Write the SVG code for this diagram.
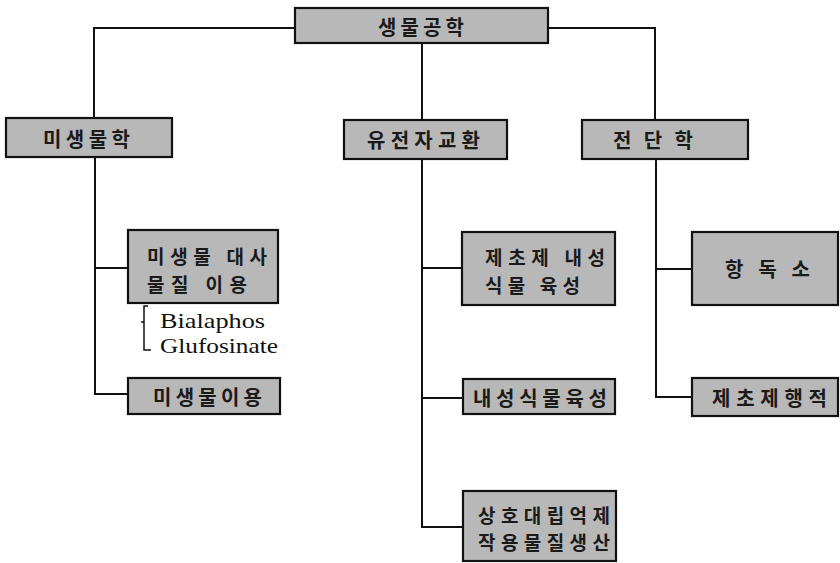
<svg xmlns="http://www.w3.org/2000/svg" width="840" height="563" viewBox="0 0 840 563">
  <style>
    .box { fill: #b8b8b8; stroke: #111; stroke-width: 2.2; }
    .lbl { font-family: "Noto Sans CJK KR", "Noto Sans", sans-serif; font-size: 20px; font-weight: 700; fill: #1a1a1a; text-anchor: middle; dominant-baseline: central; }
    .lbl2 { font-family: "Noto Sans CJK KR", "Noto Sans", sans-serif; font-size: 19px; font-weight: 700; fill: #1a1a1a; dominant-baseline: central; }
    .en { font-family: "Liberation Serif", "Times New Roman", serif; font-size: 21px; fill: #111; }
    .con { fill: none; stroke: #111; stroke-width: 2; }
    .brk { fill: none; stroke: #111; stroke-width: 1.5; }
  </style>
  <rect width="840" height="563" fill="#fff"/>
  <g id="connectors">
    <path class="con" d="M295,28 H94 V118"/>
    <path class="con" d="M548,28 H655 V120"/>
    <path class="con" d="M422,43 V120"/>
    <path class="con" d="M95,157 V394 H128"/>
    <path class="con" d="M95,268 H128"/>
    <path class="con" d="M422,159 V527 H463"/>
    <path class="con" d="M422,268 H462"/>
    <path class="con" d="M422,398 H463"/>
    <path class="con" d="M656,159 V397 H692"/>
    <path class="con" d="M656,269 H692"/>
    <path class="brk" d="M148,306 H144 V350 H151"/>
    <path class="brk" d="M141,322 H144"/>
  </g>
  <g id="root">
    <rect class="box" x="295" y="8" width="253" height="35"/>
    <text class="lbl" x="421" y="26" textLength="86" lengthAdjust="spacing">생물공학</text>
  </g>
  <g id="microbiology">
    <rect class="box" x="6" y="118" width="166" height="39"/>
    <text class="lbl" x="86.5" y="138" textLength="87" lengthAdjust="spacing">미생물학</text>
  </g>
  <g id="gene-exchange">
    <rect class="box" x="344" y="120" width="163" height="39"/>
    <text class="lbl" x="423.5" y="139.5" textLength="113" lengthAdjust="spacing">유전자교환</text>
  </g>
  <g id="third-branch">
    <rect class="box" x="582" y="120" width="166" height="39"/>
    <text class="lbl" x="653" y="139.5" textLength="80" lengthAdjust="spacing">전 단 학</text>
  </g>
  <g id="microbe-metabolite">
    <rect class="box" x="128" y="230" width="150" height="73"/>
    <text class="lbl2" x="147" y="255" textLength="120" lengthAdjust="spacing">미생물 대사</text>
    <text class="lbl2" x="147" y="283" textLength="100" lengthAdjust="spacing">물질 이용</text>
  </g>
  <g id="substances">
    <text class="en" x="160" y="328" textLength="105" lengthAdjust="spacingAndGlyphs">Bialaphos</text>
    <text class="en" x="160" y="353" textLength="118" lengthAdjust="spacingAndGlyphs">Glufosinate</text>
  </g>
  <g id="microbe-use">
    <rect class="box" x="128" y="378" width="152" height="36"/>
    <text class="lbl" x="207.5" y="396.5" textLength="109" lengthAdjust="spacing">미생물이용</text>
  </g>
  <g id="herbicide-resistant">
    <rect class="box" x="462" y="232" width="153" height="73"/>
    <text class="lbl2" x="485" y="256" textLength="120" lengthAdjust="spacing">제초제 내성</text>
    <text class="lbl2" x="485" y="284" textLength="95" lengthAdjust="spacing">식물 육성</text>
  </g>
  <g id="resistant-breeding">
    <rect class="box" x="463" y="379" width="152" height="35"/>
    <text class="lbl" x="540" y="397" textLength="134" lengthAdjust="spacing">내성식물육성</text>
  </g>
  <g id="allelopathy">
    <rect class="box" x="463" y="491" width="153" height="70"/>
    <text class="lbl2" x="478" y="514" textLength="132" lengthAdjust="spacing">상호대립억제</text>
    <text class="lbl2" x="478" y="541" textLength="132" lengthAdjust="spacing">작용물질생산</text>
  </g>
  <g id="antitoxin">
    <rect class="box" x="692" y="232" width="146" height="73"/>
    <text class="lbl" x="767.5" y="268.5" textLength="85" lengthAdjust="spacing">항 독 소</text>
  </g>
  <g id="herbicide-fate">
    <rect class="box" x="692" y="378" width="146" height="38"/>
    <text class="lbl" x="769.5" y="397" textLength="115" lengthAdjust="spacing">제초제행적</text>
  </g>
</svg>
